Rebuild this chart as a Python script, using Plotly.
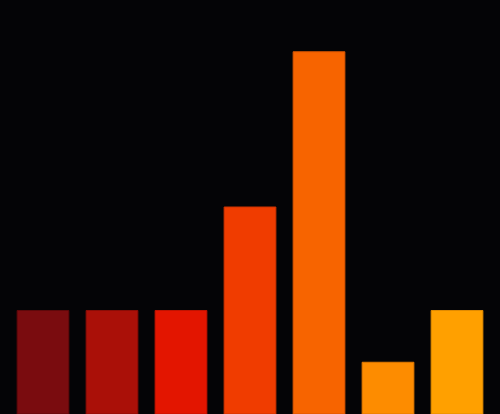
import plotly.graph_objects as go

# bar data
categories = ["A", "B", "C", "D", "E", "F", "G"]
values = [2, 2, 2, 4, 7, 1, 2]
colors = ["#7a0c0f", "#aa1008", "#e31500", "#f03c00", "#f76400", "#fd8c00", "#ffa000"]
edge_colors = ["#5e080a", "#8a0c06", "#c01200", "#cc3300", "#d85500", "#e07800", "#e08a00"]

fig = go.Figure(
    go.Bar(
        x=list(range(len(categories))),
        y=values,
        marker=dict(color=colors, line=dict(color=edge_colors, width=1)),
        width=0.75,
        hovertext=categories,
    )
)

fig.update_layout(
    width=500,
    height=414,
    margin=dict(l=0, r=0, t=0, b=0),
    paper_bgcolor="#040406",
    plot_bgcolor="#040406",
    showlegend=False,
    xaxis=dict(visible=False, range=[-0.623, 6.623]),
    yaxis=dict(visible=False, range=[0, 8]),
)

# drop the default page margin so the chart fills the window
fig.write_html(
    "out.html",
    config={"displayModeBar": False},
    post_script="document.body.style.margin='0';document.body.style.background='#040406';",
)
